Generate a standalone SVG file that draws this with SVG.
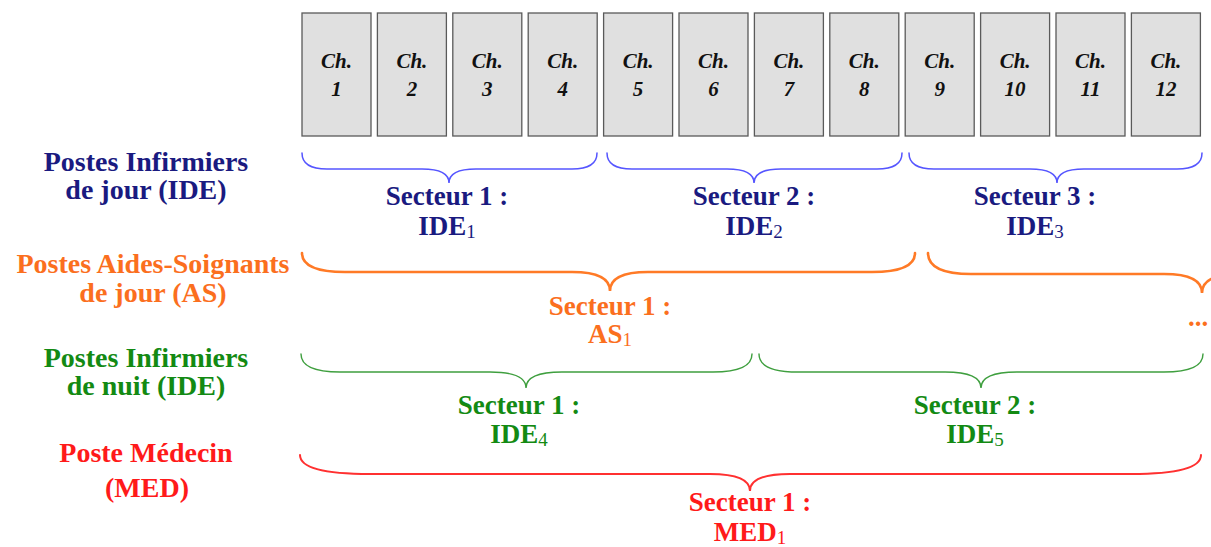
<svg xmlns="http://www.w3.org/2000/svg" width="1211" height="547" viewBox="0 0 1211 547">
<style>
text{font-family:'Liberation Serif','Times New Roman','DejaVu Serif',serif}
.room rect{fill:#e0e0e0;stroke:#5a5a5a;stroke-width:1.3}
.room text{font-style:italic;font-weight:bold;font-size:21px;fill:#111;text-anchor:middle}
.lbl text{font-weight:bold;font-size:28px;text-anchor:middle}
.sec text{font-weight:bold;font-size:27px;text-anchor:middle}
.sub{font-weight:normal;font-size:19px}
.blue{fill:#1a1a80}.orange{fill:#fb6f1e}.green{fill:#138a13}.red{fill:#ff1a1a}
.br{fill:none;stroke-linecap:round}
.bb{stroke:#5555ff;stroke-width:1.5}
.bo{stroke:#ff7a26;stroke-width:2.6}
.bg{stroke:#3f9f3f;stroke-width:1.4}
.bre{stroke:#ff3030;stroke-width:2}
</style>
<g id="rooms">
<g id="ch1" class="room"><rect x="302" y="13" width="69" height="123"/><text x="336.5" y="68">Ch.</text><text x="336.5" y="96">1</text></g>
<g id="ch2" class="room"><rect x="377.4" y="13" width="69" height="123"/><text x="411.9" y="68">Ch.</text><text x="411.9" y="96">2</text></g>
<g id="ch3" class="room"><rect x="452.8" y="13" width="69" height="123"/><text x="487.3" y="68">Ch.</text><text x="487.3" y="96">3</text></g>
<g id="ch4" class="room"><rect x="528.2" y="13" width="69" height="123"/><text x="562.7" y="68">Ch.</text><text x="562.7" y="96">4</text></g>
<g id="ch5" class="room"><rect x="603.6" y="13" width="69" height="123"/><text x="638.1" y="68">Ch.</text><text x="638.1" y="96">5</text></g>
<g id="ch6" class="room"><rect x="679" y="13" width="69" height="123"/><text x="713.5" y="68">Ch.</text><text x="713.5" y="96">6</text></g>
<g id="ch7" class="room"><rect x="754.4" y="13" width="69" height="123"/><text x="788.9" y="68">Ch.</text><text x="788.9" y="96">7</text></g>
<g id="ch8" class="room"><rect x="829.8" y="13" width="69" height="123"/><text x="864.3" y="68">Ch.</text><text x="864.3" y="96">8</text></g>
<g id="ch9" class="room"><rect x="905.2" y="13" width="69" height="123"/><text x="939.7" y="68">Ch.</text><text x="939.7" y="96">9</text></g>
<g id="ch10" class="room"><rect x="980.6" y="13" width="69" height="123"/><text x="1015.1" y="68">Ch.</text><text x="1015.1" y="96">10</text></g>
<g id="ch11" class="room"><rect x="1056" y="13" width="69" height="123"/><text x="1090.5" y="68">Ch.</text><text x="1090.5" y="96">11</text></g>
<g id="ch12" class="room"><rect x="1131.4" y="13" width="69" height="123"/><text x="1165.9" y="68">Ch.</text><text x="1165.9" y="96">12</text></g>
</g>
<g id="labels">
<g id="lbl-ide-jour" class="lbl blue"><text x="146" y="171">Postes Infirmiers</text><text x="146" y="199">de jour (IDE)</text></g>
<g id="lbl-as" class="lbl orange"><text x="153" y="273">Postes Aides-Soignants</text><text x="153" y="302">de jour (AS)</text></g>
<g id="lbl-ide-nuit" class="lbl green"><text x="146" y="367">Postes Infirmiers</text><text x="146" y="395">de nuit (IDE)</text></g>
<g id="lbl-med" class="lbl red"><text x="146" y="462">Poste Médecin</text><text x="147" y="497">(MED)</text></g>
</g>
<g id="connectors">
<path class="br bb" d="M302 153 Q302 169 327 169 L422 169 Q449 169 449 183 Q449 169 476 169 L572 169 Q597 169 597 153"/>
<path class="br bb" d="M607 153 Q607 169 632 169 L727 169 Q754 169 754 183 Q754 169 781 169 L877 169 Q902 169 902 153"/>
<path class="br bb" d="M909 153 Q909 169 934 169 L1030 169 Q1057 169 1057 183 Q1057 169 1084 169 L1177 169 Q1202 169 1202 153"/>
<path class="br bo" d="M302 253 Q302 272 345 272 L572 272 Q610 272 610 291 Q610 272 648 272 L872 272 Q915 272 915 253"/>
<path class="br bo" d="M928 253 Q928 274 971 274 L1164 274 Q1202 274 1202 293 Q1202 274 1240 274"/>
<path class="br bg" d="M301 354 Q301 372 340 372 L490 372 Q526 372 526 388 Q526 372 562 372 L713 372 Q752 372 752 354"/>
<path class="br bg" d="M759 354 Q759 372 798 372 L945 372 Q981 372 981 388 Q981 372 1017 372 L1164 372 Q1203 372 1203 354"/>
<path class="br bre" d="M300 455 Q300 474 370 474 L710 474 Q750 474 750 491 Q750 474 790 474 L1131 474 Q1201 474 1201 455"/>
</g>
<g id="sectors">
<g id="sec-ide1" class="sec blue"><text x="447" y="205">Secteur 1 :</text><text x="447" y="235">IDE<tspan class="sub" dy="3">1</tspan></text></g>
<g id="sec-ide2" class="sec blue"><text x="754" y="205">Secteur 2 :</text><text x="754" y="235">IDE<tspan class="sub" dy="3">2</tspan></text></g>
<g id="sec-ide3" class="sec blue"><text x="1035" y="205">Secteur 3 :</text><text x="1035" y="235">IDE<tspan class="sub" dy="3">3</tspan></text></g>
<g id="sec-as1" class="sec orange"><text x="610" y="315">Secteur 1 :</text><text x="610" y="343">AS<tspan class="sub" dy="3">1</tspan></text></g>
<g id="sec-as-more" class="sec orange"><text x="1198" y="326">...</text></g>
<g id="sec-ide4" class="sec green"><text x="519" y="414">Secteur 1 :</text><text x="519" y="443">IDE<tspan class="sub" dy="3">4</tspan></text></g>
<g id="sec-ide5" class="sec green"><text x="975" y="414">Secteur 2 :</text><text x="975" y="443">IDE<tspan class="sub" dy="3">5</tspan></text></g>
<g id="sec-med1" class="sec red"><text x="750" y="511">Secteur 1 :</text><text x="750" y="541">MED<tspan class="sub" dy="3">1</tspan></text></g>
</g>
</svg>
